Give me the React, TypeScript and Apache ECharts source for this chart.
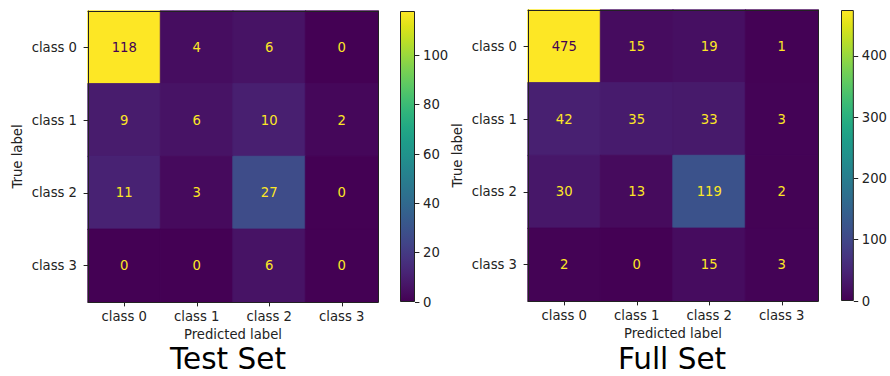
import React, { useEffect, useRef } from "react";
import * as echarts from "echarts";

const classes = ["class 0", "class 1", "class 2", "class 3"];
const testMatrix = [
  [118, 4, 6, 0],
  [9, 6, 10, 2],
  [11, 3, 27, 0],
  [0, 0, 6, 0],
];
const fullMatrix = [
  [475, 15, 19, 1],
  [42, 35, 33, 3],
  [30, 13, 119, 2],
  [2, 0, 15, 3],
];
const testTicks = [0, 20, 40, 60, 80, 100];
const fullTicks = [0, 100, 200, 300, 400];
const panelTitles = ["Test Set", "Full Set"];

const viridis = [
  "#440154", "#471365", "#482475", "#463480", "#414487", "#3b528b",
  "#355f8d", "#2f6c8e", "#2a788e", "#25848e", "#21918c", "#1e9c89",
  "#22a884", "#2fb47c", "#44bf70", "#5ec962", "#7ad151", "#9bd93c",
  "#bddf26", "#dfe318", "#fde725",
];

const FONT = "DejaVu Sans";
const INK = "#222";
const FS = 13.2;

export default function App() {
  const ref = useRef<HTMLDivElement>(null);
  useEffect(() => {
    if (!ref.current) return;
    const chart = echarts.init(ref.current, undefined, { renderer: "svg" });

    const panels = [
      { m: testMatrix, ticks: testTicks, title: panelTitles[0], titleX: 228, hm: { left: 88, top: 11 }, cb: { left: 400, top: 11 } },
      { m: fullMatrix, ticks: fullTicks, title: panelTitles[1], titleX: 672, hm: { left: 528, top: 10 }, cb: { left: 841, top: 10 } },
    ];

    const grid: any[] = [];
    const xAxis: any[] = [];
    const yAxis: any[] = [];
    const series: any[] = [];
    const visualMap: any[] = [];
    const graphic: any[] = [];

    panels.forEach((p) => {
      const maxVal = Math.max(...p.m.flat());
      const gH = grid.length;
      grid.push({ left: p.hm.left, top: p.hm.top, width: 290, height: 291, containLabel: false });
      const gC = grid.length;
      grid.push({ left: p.cb.left, top: p.cb.top, width: 15, height: 291, containLabel: false });

      const xB = xAxis.length;
      xAxis.push({
        type: "category", gridIndex: gH, data: classes, position: "bottom", z: 10,
        axisLine: { show: true, lineStyle: { color: INK, width: 1 } },
        axisTick: { show: true, alignWithLabel: true, length: 4.4, lineStyle: { color: INK } },
        axisLabel: { color: INK, fontSize: FS, fontFamily: FONT, margin: 8 },
        splitLine: { show: false },
        name: "Predicted label", nameLocation: "middle", nameGap: 25,
        nameTextStyle: { color: INK, fontSize: FS, fontFamily: FONT },
      });
      xAxis.push({
        type: "category", gridIndex: gH, data: classes, position: "top", z: 10,
        axisLine: { show: true, lineStyle: { color: INK, width: 1 } },
        axisTick: { show: false }, axisLabel: { show: false }, splitLine: { show: false },
      });
      const xC = xAxis.length;
      xAxis.push({ type: "category", gridIndex: gC, data: [""], show: false });

      const yL = yAxis.length;
      yAxis.push({
        type: "category", gridIndex: gH, data: classes, inverse: true, position: "left", z: 10,
        axisLine: { show: true, lineStyle: { color: INK, width: 1 } },
        axisTick: { show: true, alignWithLabel: true, length: 4.4, lineStyle: { color: INK } },
        axisLabel: { color: INK, fontSize: FS, fontFamily: FONT, margin: 11 },
        splitLine: { show: false },
        name: "True label", nameLocation: "middle", nameGap: 64.5,
        nameTextStyle: { color: INK, fontSize: FS, fontFamily: FONT },
      });
      yAxis.push({
        type: "category", gridIndex: gH, data: classes, inverse: true, position: "right", z: 10,
        axisLine: { show: true, lineStyle: { color: INK, width: 1 } },
        axisTick: { show: false }, axisLabel: { show: false }, splitLine: { show: false },
      });
      const yC = yAxis.length;
      yAxis.push({
        type: "value", gridIndex: gC, min: 0, max: maxVal, position: "right",
        axisLine: { show: false },
        axisTick: { show: true, length: 4.4, customValues: p.ticks, lineStyle: { color: INK } },
        axisLabel: { color: INK, fontSize: FS, fontFamily: FONT, margin: 8, customValues: p.ticks },
        splitLine: { show: false },
      });

      const data: any[] = [];
      p.m.forEach((row, i) =>
        row.forEach((v, j) => {
          data.push({
            value: [j, i, v],
            label: { color: v > maxVal / 2 ? "#440154" : "#fde725" },
            itemStyle: {
              borderColor: echarts.color.lerp(v / maxVal, viridis),
              borderWidth: 0.8,
            },
          });
        })
      );
      const sH = series.length;
      series.push({
        type: "heatmap", xAxisIndex: xB, yAxisIndex: yL, data,
        label: {
          show: true, fontSize: FS, fontFamily: FONT,
          formatter: (prm: any) => String(prm.value[2]),
        },
        emphasis: { disabled: true },
      });
      visualMap.push({
        type: "continuous", show: false, seriesIndex: sH, min: 0, max: maxVal,
        dimension: 2, inRange: { color: viridis },
      });
      const stops = viridis.map((c, k) => ({ offset: k / (viridis.length - 1), color: c }));
      series.push({
        type: "bar", xAxisIndex: xC, yAxisIndex: yC, data: [maxVal], barWidth: "100%",
        silent: true,
        itemStyle: {
          color: new echarts.graphic.LinearGradient(0, 1, 0, 0, stops),
          borderColor: INK, borderWidth: 1,
        },
      });

      graphic.push({
        type: "text",
        x: p.titleX,
        y: 358.8,
        style: {
          text: p.title, fill: "#000", fontSize: 29.5, fontFamily: FONT,
          align: "center", verticalAlign: "middle",
          textAlign: "center", textVerticalAlign: "middle",
        },
      });
    });

    chart.setOption({
      animation: false,
      backgroundColor: "#fff",
      textStyle: { fontFamily: FONT },
      grid, xAxis, yAxis, series, visualMap, graphic,
    });
    return () => chart.dispose();
  }, []);
  return (
    <div
      ref={ref}
      style={{ position: "fixed", left: 0, top: 0, width: 890, height: 376 }}
    />
  );
}
